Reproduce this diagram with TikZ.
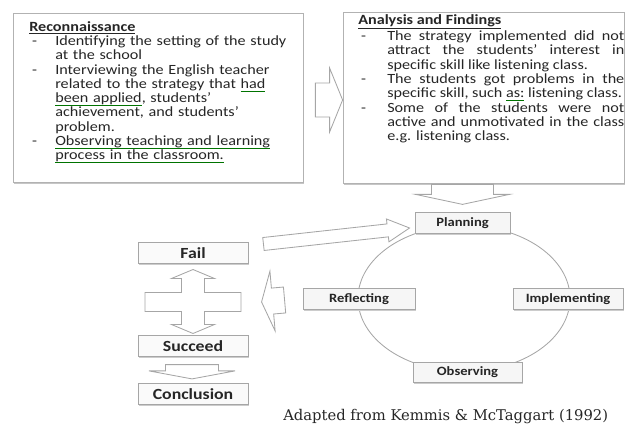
\documentclass[tikz,border=0pt]{standalone}
\usepackage{fontspec}
\setmainfont[FakeStretch=1.15]{Carlito}
\newfontfamily\capfont{DejaVu Serif}
\usetikzlibrary{calc,shadows}

\newlength{\dashind}
\newsavebox{\glinebox}
\newcommand{\dashitem}{\par\noindent\hangindent=\dashind\hangafter=1\makebox[\dashind][l]{\hspace{2pt}-}}
\newcommand{\gline}[1]{\sbox{\glinebox}{#1}\rlap{\textcolor{green!45!black}{\rule[-0.45ex]{\wd\glinebox}{0.5pt}}}\usebox{\glinebox}}
% #1 tail, #2 tip, #3 half shaft, #4 half head, #5 head length
\newcommand{\fatarrow}[5]{%
  \coordinate (fa-hb) at ($(#2)!#5!(#1)$);
  \draw[fatarrow] ($(#1)!#3!90:(#2)$) -- ($(fa-hb)!#3!90:(#2)$) -- ($(fa-hb)!#4!90:(#2)$) -- (#2)
    -- ($(fa-hb)!#4!-90:(#2)$) -- ($(fa-hb)!#3!-90:(#2)$) -- ($(#1)!#3!-90:(#2)$) -- cycle;}

\begin{document}
\begin{tikzpicture}[x=0.025cm, y=-0.025cm,
  bigbox/.style={draw=gray!60, fill=white, line width=0.5pt,
    drop shadow={shadow xshift=1pt, shadow yshift=-1.2pt, fill=gray!45, opacity=1}},
  listtext/.style={inner sep=0pt, text=black!85, font=\fontsize{10}{10.17}\selectfont},
  stagebox/.style={draw=gray!70, fill=gray!7, line width=0.6pt, text=black!85,
    font=\bfseries\fontsize{9}{10}\selectfont, minimum height=0.5cm,
    drop shadow={shadow xshift=1pt, shadow yshift=-1pt, fill=gray!40, opacity=1}},
  outcome/.style={draw=gray!70, fill=gray!4, line width=0.6pt, text=black!85,
    font=\bfseries\fontsize{11}{12}\selectfont, minimum width=2.75cm, minimum height=0.475cm,
    drop shadow={shadow xshift=1pt, shadow yshift=-1pt, fill=gray!40, opacity=1}},
  fatarrow/.style={draw=gray!70, fill=white, line width=0.6pt, line join=miter},
  cyclering/.style={draw=gray!70, line width=0.6pt}]
\useasboundingbox (0,0) rectangle (625,425);

% top boxes
\node[bigbox, minimum width=7.25cm, minimum height=4.225cm] (recon) at (158,97.5) {};
\node[bigbox, minimum width=7.025cm, minimum height=4.275cm] (analysis) at (483.5,97.5) {};

\node[listtext, anchor=north west, text width=6.65cm, align=left] (recontext) at (29,21) {%
\setlength{\dashind}{0.65cm}%
\underline{\textbf{Reconnaissance}}
\dashitem Identifying the setting of the study\newline at the school
\dashitem Interviewing the English teacher\newline related to the strategy that \gline{had}\newline \gline{been applied}, students’\newline achievement, and students’\newline problem.
\dashitem \gline{Observing teaching and learning}\newline \gline{process in the classroom.}\par};

\node[listtext, anchor=north west, text width=6.65cm, align=justify] (analysistext) at (358,14) {%
\setlength{\dashind}{0.725cm}\tolerance=9999\hbadness=10000%
\underline{\textbf{Analysis and Findings}}
\dashitem The strategy implemented did not\linebreak attract the students’ interest in\linebreak specific skill like listening class.
\dashitem The students got problems in the\linebreak specific skill, such \gline{as:} listening class.
\dashitem Some of the students were not\linebreak active and unmotivated in the class\linebreak e.g. listening class.\par};

% cycle
\coordinate (cyc) at (464,298.5);
\draw[cyclering] (cyc) ellipse [x radius=2.65cm, y radius=1.825cm];

\node[stagebox, minimum width=2.375cm] (planning) at (462.5,223) {Planning};
\node[stagebox, minimum width=2.75cm] (implementing) at (568,299) {Implementing};
\node[stagebox, minimum width=2.725cm] (observing) at (467.5,372.5) {Observing};
\node[stagebox, minimum width=2.8cm] (reflecting) at (359,299) {Reflecting};

% outcomes
\node[outcome] (fail) at (193,253) {Fail};
\node[outcome] (succeed) at (193,346) {Succeed};
\node[outcome] (conclusion) at (193,394) {Conclusion};

\node[inner sep=0pt, anchor=west, text=black!85, font=\capfont\fontsize{10.5}{12}\selectfont] (source) at (283,417) {Adapted from Kemmis \& McTaggart (1992)};

% arrows
\fatarrow{$(recon.east)+(12,2.5)$}{$(analysis.west)+(0,2.5)$}{0.425cm}{0.8cm}{0.325cm}
\fatarrow{$(planning.north)+(0,-28)$}{$(planning.north)+(0,-8)$}{0.775cm}{1.175cm}{0.25cm}
\fatarrow{$(fail.east)+(15,-9)$}{$(planning.west)+(-5,5)$}{0.1625cm}{0.2875cm}{0.55cm}
\fatarrow{$(reflecting.west)+(-18,1)$}{$(reflecting.west)+(-41,3)$}{0.325cm}{0.75cm}{0.275cm}
\fatarrow{$(succeed.south)+(-1,8)$}{$(conclusion.north)+(-1,-4.5)$}{0.6625cm}{1.075cm}{0.2cm}

\coordinate (cross) at ($(fail.south)!0.5!(succeed.north)$);
\begin{scope}[shift={(cross)}]
\draw[fatarrow] (0,-30) -- (21.5,-21) -- (11.5,-21) -- (11.5,-7) -- (48,-7) -- (48,12)
  -- (11.5,12) -- (11.5,25) -- (21.5,25) -- (0,34) -- (-21.5,25) -- (-11.5,25)
  -- (-11.5,12) -- (-48,12) -- (-48,-7) -- (-11.5,-7) -- (-11.5,-21) -- (-21.5,-21) -- cycle;
\end{scope}
\end{tikzpicture}
\end{document}
